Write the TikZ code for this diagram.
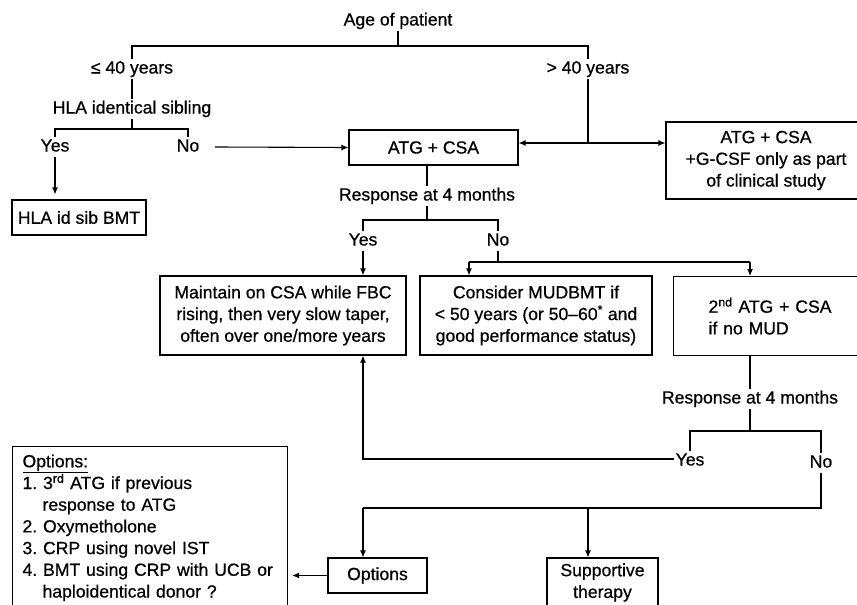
\documentclass[tikz,border=0pt]{standalone}
\usepackage{fontspec}
\setmainfont{Liberation Sans}[FakeBold=0.7]
\usetikzlibrary{arrows.meta}
\frenchspacing
\begin{document}
\begin{tikzpicture}[x=1pt,y=-1pt,
  every node/.style={font=\fontsize{17.6}{21.7}\selectfont\frenchspacing},
  lab/.style={inner sep=1.5pt, text height=12.5pt, text depth=3.5pt},
  box/.style={draw, line width=1.1pt, align=center, inner sep=0pt},
  ln/.style={line width=1.1pt},
  arr/.style={line width=1.1pt, -{Latex[length=7pt,width=6pt]}},
  darr/.style={line width=1.1pt, {Latex[length=7pt,width=6pt]}-{Latex[length=7pt,width=6pt]}}]
\useasboundingbox (0,0) rectangle (857,605);
\clip (0,0) rectangle (857,605);
% labels
\node[lab] (age) at (398,21) {Age of patient};
\node[lab] (le40) at (132,69) {≤ 40 years};
\node[lab] (hla) at (132,109) {HLA identical sibling};
\node[lab] (yes1) at (55,147) {Yes};
\node[lab] (no1) at (188,147) {No};
\node[lab] (gt40) at (588,69) {> 40 years};
\node[lab] (resp1) at (427,196) {Response at 4 months};
\node[lab] (yes2) at (363,241) {Yes};
\node[lab] (no2) at (498,241) {No};
\node[lab] (resp2) at (750,399) {Response at 4 months};
\node[lab] (yes3) at (690,461) {Yes};
\node[lab] (no3) at (821,463) {No};
% boxes
\node[box, minimum width=134pt, minimum height=35pt] (sib) at (79,217.5) {HLA id sib BMT};
\node[box, minimum width=169pt, minimum height=35pt] (atg) at (433.5,147.5) {ATG + CSA};
\node[box, minimum width=200pt, minimum height=77pt] (atgg) at (766,160.5) {ATG + CSA\\+G-CSF only as part\\of clinical study};
\node[box, minimum width=246pt, minimum height=79pt] (maint) at (283,315.5) {Maintain on CSA while FBC\\rising, then very slow taper,\\often over one/more years};
\node[box, minimum width=232pt, minimum height=79pt] (mud) at (536,315.5) {Consider MUDBMT if\\< 50 years (or 50–60\textsuperscript{*} and\\good performance status)};
\node[box, anchor=north west, align=left, text width=140pt, inner xsep=35pt, minimum height=79pt] (atg2) at (673,276) {2\textsuperscript{nd} ATG + CSA\\if no MUD};
\node[box, minimum width=99pt, minimum height=35pt] (opts) at (377.5,575.5) {Options};
\node[box, minimum width=111pt, minimum height=49pt] (supp) at (602.5,582.5) {Supportive\\therapy};
\node[box, anchor=north west, align=left, text width=255pt, inner xsep=10pt, inner ysep=8pt] (optlist) at (12,446)
  {\underline{Options:}\\
   1. 3\textsuperscript{rd} ATG if previous\\
   \hspace*{20pt}response to ATG\\
   2. Oxymetholone\\
   3. CRP using novel IST\\
   4. BMT using CRP with UCB or\\
   \hspace*{20pt}haploidentical donor ?};
% coordinates
\coordinate (bus1) at (398,46);
\coordinate (bus2) at (132,129);
\coordinate (j) at (588,143);
\coordinate (bus3) at (427,220);
\coordinate (b2) at (498,262);
\coordinate (m1) at (469,262);
\coordinate (m2) at (750,262);
\coordinate (bus4) at (750,431);
\coordinate (k) at (363,459);
\coordinate (p1) at (363,508);
\coordinate (p2) at (588,508);
\coordinate (p3) at (821,508);
% connectors
\draw[ln] (age.south) -- (bus1);
\draw[ln] (le40.north) |- (bus1) -| (gt40.north);
\draw[ln] (le40.south) -- (hla.north);
\draw[ln] (hla.south) -- (bus2);
\draw[ln] (yes1.north) |- (bus2) -| (no1.north);
\draw[arr, shorten >=5pt] (yes1.south) -- (yes1.south |- sib.north);
\draw[arr] ([xshift=14pt]no1.east) -- (atg.west);
\draw[ln] (gt40.south) -- (j);
\draw[darr] (atg.east |- j) -- (atgg.west |- j);
\draw[ln] (resp1.north |- atg.south) -- (resp1.north);
\draw[ln] (resp1.south) -- (bus3);
\draw[ln] (yes2.north) |- (bus3) -| (no2.north);
\draw[arr] (yes2.south) -- (maint.north -| yes2.south);
\draw[ln] (no2.south) -- (b2);
\draw[ln] (m1) -- (m2);
\draw[arr] (m1) -- (m1 |- mud.north);
\draw[arr] (m2) -- (m2 |- atg2.north);
\draw[ln] (resp2.north |- atg2.south) -- (resp2.north);
\draw[ln] (resp2.south) -- (bus4);
\draw[ln] (yes3.north) |- (bus4) -| (no3.north);
\draw[arr] (yes3.west |- k) -- (k) -- (k |- maint.south);
\draw[ln] (no3.south) -- (p3) -- (p1);
\draw[arr] (p1) -- (p1 |- opts.north);
\draw[arr] (p2) -- (p2 |- supp.north);
\draw[arr, shorten >=4pt] (opts.west) -- (optlist.east |- opts.west);
\end{tikzpicture}
\end{document}
